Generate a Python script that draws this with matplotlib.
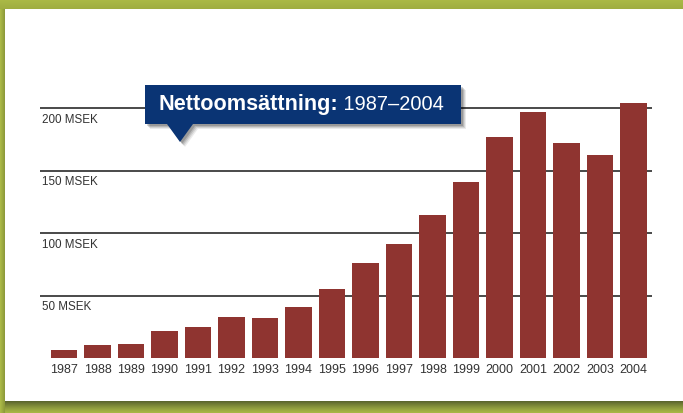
import numpy as np
import matplotlib
matplotlib.use("Agg")
import matplotlib.pyplot as plt
from matplotlib.patches import Polygon
import matplotlib.transforms as mtransforms

# Net sales per year, MSEK
years = ["1987", "1988", "1989", "1990", "1991", "1992", "1993", "1994", "1995",
         "1996", "1997", "1998", "1999", "2000", "2001", "2002", "2003", "2004"]
net_sales = [6.4, 10.4, 11.2, 21.6, 24.8, 32.8, 32.0, 40.8, 55.2,
             76.0, 91.2, 114.4, 140.8, 176.8, 196.8, 172.0, 162.4, 204.3]
grid_values = [50, 100, 150, 200]
grid_labels = ["50 MSEK", "100 MSEK", "150 MSEK", "200 MSEK"]
title_bold = "Nettoomsättning:"
title_rest = " 1987–2004"

W, H = 683, 413
DPI = 100
fig = plt.figure(figsize=(W / DPI, H / DPI), dpi=DPI)

# ---- page background: green frame, white panel with a soft drop shadow ----
bg = np.zeros((H, W, 3))
green = np.array([0.667, 0.725, 0.275])
bg[:, :] = green
for r in range(0, 9):
    bg[r, :] = green * (1.0 - 0.06 * r / 8)
for r in range(401, H):
    t = (r - 401) / (H - 401)
    dark = np.array([0.36, 0.40, 0.18])
    w = (1 - t) ** 1.3
    bg[r, :] = dark * w + green * (1 - w)
for c in range(0, 5):
    t = c / 5
    bg[9:, c] = green * (1 - 0.2 * t)
bg[9:401, 5:] = 1.0
fig.figimage(bg, xo=0, yo=0, origin="upper", zorder=-10)

# ---- bar axes ----
bar_color = "#8f3430"
ax_left_px, ax_right_px = 40, 652
base_px, top_px = 358, 83
ax = fig.add_axes([ax_left_px / W, (H - base_px) / H,
                   (ax_right_px - ax_left_px) / W, (base_px - top_px) / H])
ax.set_zorder(2)
ax.patch.set_alpha(0)
x = np.arange(len(years))
ax.set_xlim(-0.716, 17.552)
ax.set_ylim(0, 220)

for g in grid_values:
    ax.axhline(g, color="#3a3a3a", lw=1.3, zorder=1)
ax.bar(x, net_sales, width=0.78, color=bar_color, zorder=2)

for s in ax.spines.values():
    s.set_visible(False)
ax.set_yticks([])
ax.set_xticks(x)
ax.set_xticklabels(years, fontsize=9, color="#333333", family="Liberation Sans")
ax.tick_params(axis="x", length=0, pad=4.5)

# value labels sit just below each gridline at the left edge
trans = mtransforms.blended_transform_factory(ax.transAxes, ax.transData)
for g, lab in zip(grid_values, grid_labels):
    t = mtransforms.offset_copy(trans, fig=fig, x=2, y=-5.5, units="dots")
    ax.text(0, g, lab, transform=t, ha="left", va="top", fontsize=8.4,
            color="#333333", family="Liberation Sans")

# ---- title callout box ----
fx = lambda px: px / W
fy = lambda py: (H - py) / H
box_l, box_r, box_t, box_b = 145, 461, 85, 124
tip = (180, 142)
ptr_l, ptr_r = 167, 193
callout = [(box_l, box_t), (box_r, box_t), (box_r, box_b), (ptr_r, box_b),
           tip, (ptr_l, box_b), (box_l, box_b)]
for off, a in [(5, 0.08), (4, 0.10), (3, 0.13), (2, 0.16)]:
    fig.patches.append(Polygon([(fx(px + off), fy(py + off)) for px, py in callout],
                               closed=True, transform=fig.transFigure,
                               facecolor="black", alpha=a, edgecolor="none", zorder=5))
fig.patches.append(Polygon([(fx(px), fy(py)) for px, py in callout], closed=True,
                           transform=fig.transFigure, facecolor="#0a3474",
                           edgecolor="none", zorder=6))

t1 = fig.text(fx(158), fy(104.5), title_bold, ha="left", va="center",
              fontsize=15.6, fontweight="bold", color="white",
              family="Liberation Sans", zorder=7)
fig.canvas.draw()
bb = t1.get_window_extent()
fig.text(bb.x1 / W, fy(104.5), title_rest, ha="left", va="center",
         fontsize=14.4, color="white", family="Liberation Sans", zorder=7)

fig.savefig("out.png", dpi=DPI)
